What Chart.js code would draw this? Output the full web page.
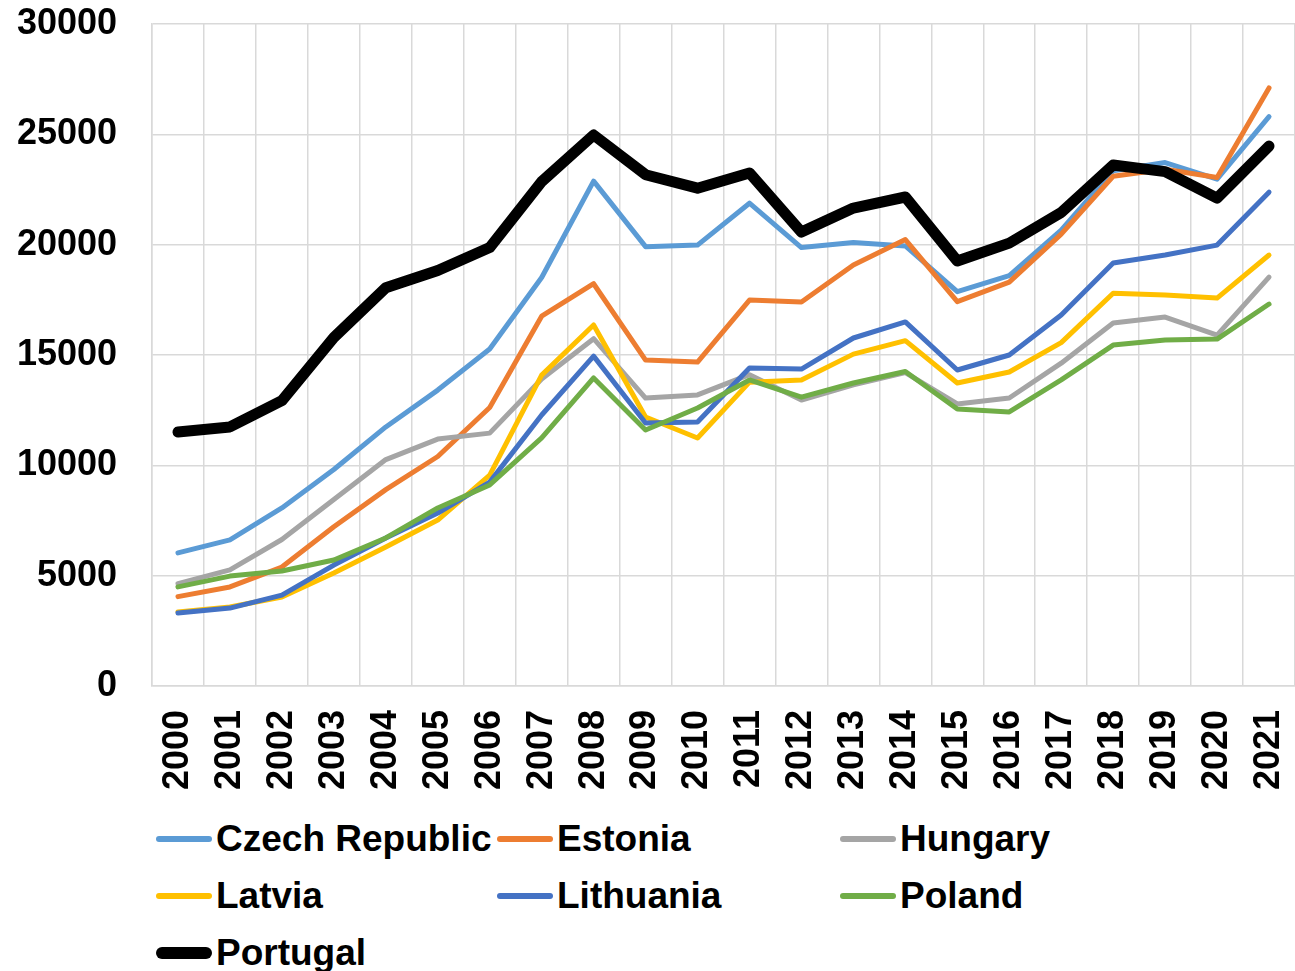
<!DOCTYPE html>
<html>
<head>
<meta charset="utf-8">
<script src="https://cdn.jsdelivr.net/npm/chart.js@4/dist/chart.umd.min.js"></script>
<style>
    html, body { margin: 0; padding: 0; background: #fff; overflow: hidden; }
    #wrap { position: absolute; left: 0; top: 0; width: 1295px; height: 800px; }
    #legend {
        position: absolute; left: 0; top: 810px; width: 1295px;
        font-family: "Liberation Sans", Arial, sans-serif; font-weight: bold; font-size: 37px; color: #000;
    }
    .item { position: absolute; height: 57px; line-height: 57px; display: flex; align-items: center; white-space: nowrap; }
    .swatch { width: 56px; margin-right: 4px; border-radius: 6px; }
</style>
</head>
<body>
<div id="wrap"><canvas id="chart"></canvas></div>
<div id="legend"></div>
<script>
const years = ['2000', '2001', '2002', '2003', '2004', '2005', '2006', '2007', '2008', '2009', '2010',
    '2011', '2012', '2013', '2014', '2015', '2016', '2017', '2018', '2019', '2020', '2021'];

const czech = [6030, 6620, 8070, 9810, 11740, 13410, 15270, 18510, 22880, 19910, 19980, 21880, 19870, 20100, 19940, 17870, 18600, 20660, 23350, 23720, 22970, 25800];
const estonia = [4050, 4490, 5390, 7220, 8900, 10400, 12620, 16760, 18230, 14770, 14680, 17490, 17400, 19080, 20230, 17420, 18300, 20480, 23100, 23420, 23040, 27100];
const hungary = [4640, 5260, 6640, 8450, 10260, 11190, 11460, 13910, 15740, 13050, 13190, 14110, 12960, 13650, 14200, 12780, 13050, 14630, 16450, 16720, 15900, 18530];
const latvia = [3350, 3580, 4030, 5120, 6300, 7520, 9560, 14090, 16360, 12190, 11240, 13770, 13870, 15040, 15650, 13730, 14230, 15560, 17800, 17720, 17580, 19530];
const lithuania = [3310, 3530, 4120, 5480, 6710, 7840, 9240, 12280, 14950, 11920, 11960, 14410, 14360, 15770, 16500, 14320, 15000, 16810, 19170, 19530, 19980, 22380];
const poland = [4490, 4980, 5210, 5710, 6710, 8070, 9110, 11240, 13960, 11600, 12600, 13870, 13090, 13730, 14250, 12550, 12420, 13870, 15450, 15680, 15720, 17310];
const portugal = [11510, 11740, 12930, 15790, 18050, 18830, 19870, 22860, 24970, 23170, 22560, 23250, 20570, 21660, 22160, 19260, 20070, 21460, 23610, 23310, 22110, 24470];

const names = ['Czech Republic', 'Estonia', 'Hungary', 'Latvia', 'Lithuania', 'Poland', 'Portugal'];
const series = [czech, estonia, hungary, latvia, lithuania, poland, portugal];
const colors = ['#5b9bd5', '#ed7d31', '#a5a5a5', '#ffc000', '#4472c4', '#70ad47', '#000000'];
const widths = [5, 5, 5, 5, 5, 5, 11];

const yMax = 30000;
const yStep = 5000;

const font = "'Liberation Sans', Arial, sans-serif";

const datasets = series.map((vals, i) => ({
    label: names[i],
    data: vals,
    borderColor: colors[i],
    backgroundColor: colors[i],
    borderWidth: widths[i],
    borderCapStyle: 'round',
    borderJoinStyle: 'round',
    pointRadius: 0,
    tension: 0,
    order: series.length - i // later series on top, like Excel
}));

// drop the label overflow padding so the plot fills the page like the original
function noPad(s) {
    s.paddingLeft = 0;
    s.paddingRight = 0;
    s.paddingTop = 0;
    s.paddingBottom = 0;
}

const chart = new Chart(document.getElementById('chart'), {
    type: 'line',
    data: { labels: years, datasets: datasets },
    options: {
        responsive: true,
        maintainAspectRatio: false,
        animation: false,
        layout: { padding: { top: 24, right: 0, left: 0, bottom: 0 } },
        plugins: {
            legend: { display: false },
            tooltip: { enabled: false }
        },
        scales: {
            x: {
                offset: true,
                grid: { offset: true, color: '#d9d9d9', lineWidth: 1.5, drawTicks: false },
                border: { color: '#d9d9d9', width: 1.5 },
                ticks: {
                    color: '#000',
                    padding: 24,
                    minRotation: 90,
                    maxRotation: 90,
                    autoSkip: false,
                    font: { family: font, size: 36, weight: 'bold' }
                },
                afterFit: (s) => { s.height = 800 - 686; noPad(s); }
            },
            y: {
                min: 0,
                max: yMax,
                grid: { color: '#d9d9d9', lineWidth: 1.5, drawTicks: false },
                border: { color: '#d9d9d9', width: 1.5 },
                ticks: {
                    stepSize: yStep,
                    color: '#000',
                    padding: 35,
                    font: { family: font, size: 36, weight: 'bold' },
                    callback: (v) => String(v)
                },
                afterFit: (s) => { s.width = 152; noPad(s); }
            }
        }
    }
});

// legend laid out in three columns
const legendBox = document.getElementById('legend');
const colX = [156, 497, 840];
chart.data.datasets.forEach((ds, i) => {
    const item = document.createElement('div');
    item.className = 'item';
    item.style.left = colX[i % 3] + 'px';
    item.style.top = (Math.floor(i / 3) * 57) + 'px';
    const sw = document.createElement('span');
    sw.className = 'swatch';
    sw.style.height = (ds.borderWidth + 1) + 'px';
    sw.style.background = ds.borderColor;
    const txt = document.createElement('span');
    txt.textContent = ds.label;
    item.appendChild(sw);
    item.appendChild(txt);
    legendBox.appendChild(item);
});
</script>
</body>
</html>
